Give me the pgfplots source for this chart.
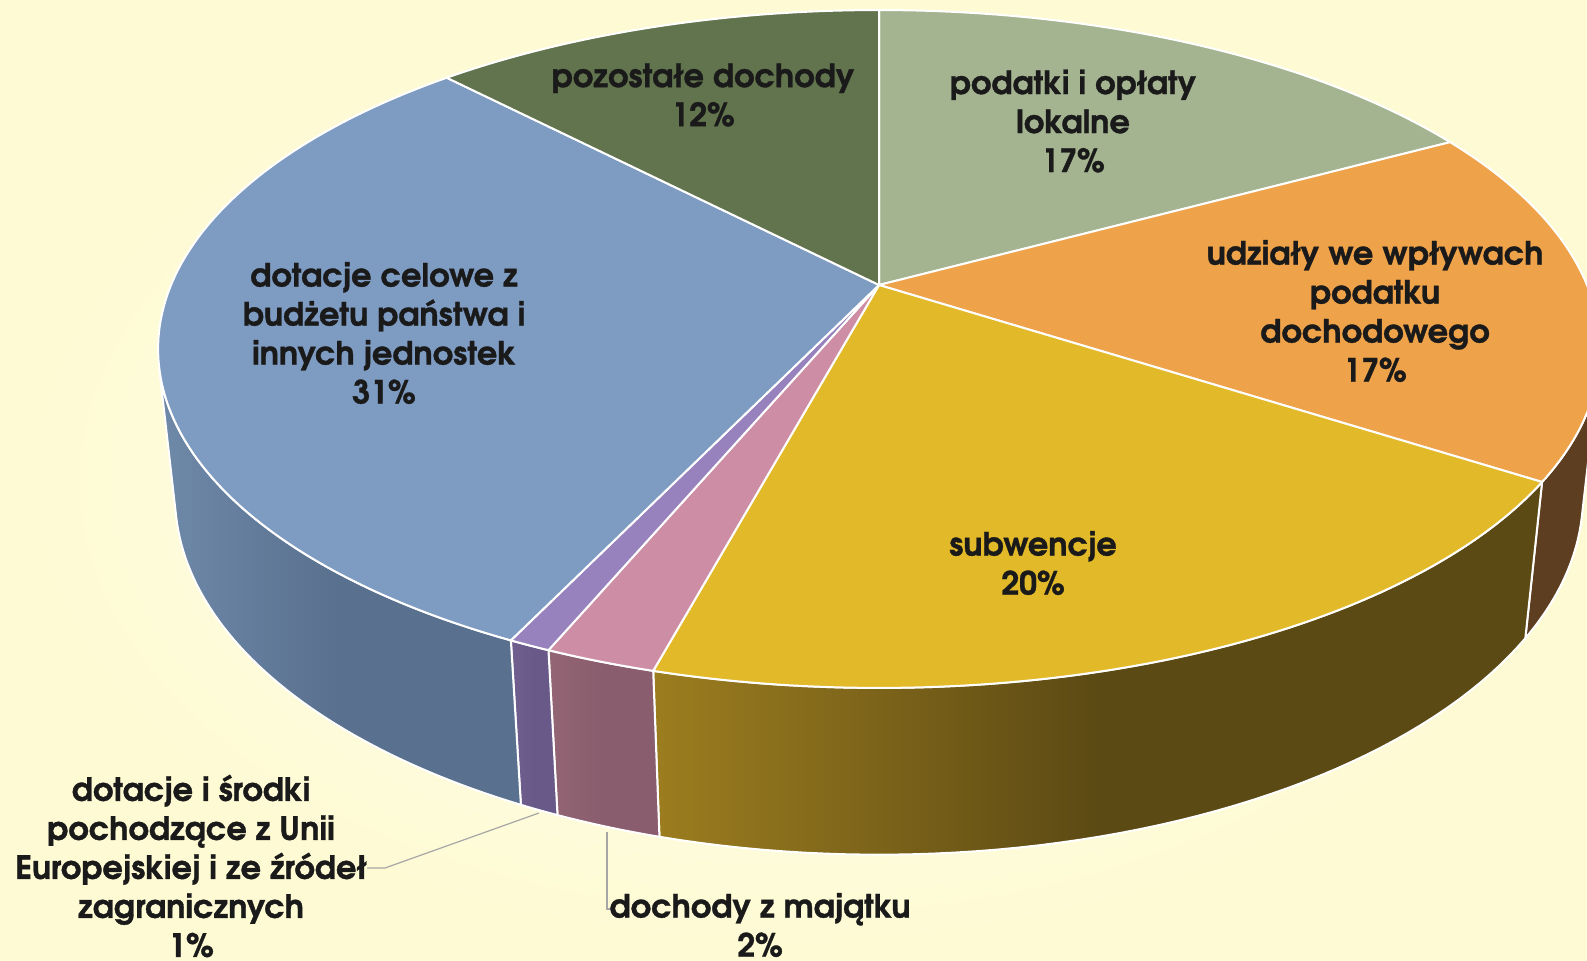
\documentclass[border=0pt]{standalone}
\usepackage{fontspec}
\setmainfont{TeX Gyre Adventor}[BoldFeatures={FakeBold=1.0}]
\usepackage{pgfplots}
\usepackage{pgfplotstable}
\pgfplotsset{compat=1.18}

\definecolor{cPod}{HTML}{A4B490}
\definecolor{cUdz}{HTML}{EEA24A}
\definecolor{cSub}{HTML}{E2B929}
\definecolor{cMaj}{HTML}{CD8DA4}
\definecolor{cUE}{HTML}{9882BD}
\definecolor{cCel}{HTML}{7E9BC1}
\definecolor{cPoz}{HTML}{62744D}
\definecolor{sUdz}{HTML}{5E3E20}
\definecolor{sSubL}{HTML}{9C7D1F}
\definecolor{sSubR}{HTML}{5C4A14}
\definecolor{sMajL}{HTML}{936575}
\definecolor{sMajR}{HTML}{895D6D}
\definecolor{sUEL}{HTML}{705F8F}
\definecolor{sUER}{HTML}{695989}
\definecolor{sCelL}{HTML}{6F89A9}
\definecolor{sCelR}{HTML}{59708E}
\definecolor{txt}{HTML}{1A1A1A}
\definecolor{bgIn}{HTML}{FFFFF3}
\definecolor{bgOut}{HTML}{FEFAD3}

\pgfplotstableread{
label value
podatki 17.1
udzialy 17.0
subwencje 20.1
majatek 2.1
ue 0.8
celowe 30.7
pozostale 12.2
}\piedata

\newcommand\lab{\fontsize{16}{19.5}\selectfont\bfseries}

\newcommand\topface[3]{%
 \addplot[fill=#3, draw=white, line width=1pt, line join=round,
   domain=0:1.1, samples=111, variable=\s]
 ({px(tt(\s,#1,#2),rr(\s),0)}, {py(tt(\s,#1,#2),rr(\s),0)}) -- cycle;}
\newcommand\sideface[4]{%
 \addplot[left color=#3, right color=#4, middle color=#4, draw=white, line width=1pt, line join=round,
   domain=0:2.1, samples=106, variable=\s]
 ({px(st(\s,#1,#2),1,sz(\s))}, {py(st(\s,#1,#2),1,sz(\s))}) -- cycle;}

\begin{document}%
\begin{tikzpicture}
\pgfplotstablegetelem{0}{value}\of\piedata\let\vA\pgfplotsretval
\pgfplotstablegetelem{1}{value}\of\piedata\let\vB\pgfplotsretval
\pgfplotstablegetelem{2}{value}\of\piedata\let\vC\pgfplotsretval
\pgfplotstablegetelem{3}{value}\of\piedata\let\vD\pgfplotsretval
\pgfplotstablegetelem{4}{value}\of\piedata\let\vE\pgfplotsretval
\pgfplotstablegetelem{5}{value}\of\piedata\let\vF\pgfplotsretval
\pgfplotstablegetelem{6}{value}\of\piedata\let\vG\pgfplotsretval
\pgfmathsetmacro\tA{90}
\pgfmathsetmacro\tB{\tA-3.6*\vA}
\pgfmathsetmacro\tC{\tB-3.6*\vB}
\pgfmathsetmacro\tD{\tC-3.6*\vC}
\pgfmathsetmacro\tE{\tD-3.6*\vD}
\pgfmathsetmacro\tF{\tE-3.6*\vE}
\pgfmathsetmacro\tG{\tF-3.6*\vF}
\pgfmathsetmacro\tH{\tG-3.6*\vG}
\begin{axis}[
  width=793.5pt, height=480.5pt, scale only axis,
  xmin=0, xmax=1587, ymin=0, ymax=961, y dir=reverse,
  axis line style={draw=none}, ticks=none,
  axis background/.style={inner color=bgIn, outer color=bgOut},
  declare function={
    px(\ang,\rad,\dep)=879+3326*\rad*cos(\ang)/(4.698+0.887*\rad*sin(\ang)+0.4617*\dep);
    py(\ang,\rad,\dep)=285-3326*(0.4617*\rad*sin(\ang)-0.887*\dep)/(4.698+0.887*\rad*sin(\ang)+0.4617*\dep);
    tt(\s,\a,\b)=(\a)+min(\s,1)*((\b)-(\a));
    rr(\s)=(\s<1.05);
    st(\s,\a,\b)=(\s<1.05)*((\a)+min(\s,1)*((\b)-(\a)))+(\s>1.05)*((\b)-max(\s-1.1,0)*((\b)-(\a)));
    sz(\s)=(\s>1.05)*0.2365;
  },
]
% sides
\sideface{-13.89}{\tC}{sUdz}{sUdz}
\sideface{\tC}{\tD}{sSubL}{sSubR}
\sideface{\tD}{\tE}{sMajL}{sMajR}
\sideface{\tE}{\tF}{sUEL}{sUER}
\sideface{\tF}{-166.11}{sCelL}{sCelR}
% tops
\topface{\tA}{\tB}{cPod}
\topface{\tB}{\tC}{cUdz}
\topface{\tC}{\tD}{cSub}
\topface{\tD}{\tE}{cMaj}
\topface{\tE}{\tF}{cUE}
\topface{\tF}{\tG}{cCel}
\topface{\tG}{\tH}{cPoz}
% leader lines
\draw[color=black!35, line width=0.6pt] (axis cs:539,813) -- (axis cs:385,868) -- (axis cs:367,868);
\draw[color=black!35, line width=0.6pt] (axis cs:607,832) -- (axis cs:607,909) -- (axis cs:613,909);
% labels
\begin{scope}[every node/.style={font=\lab, align=center, text=txt, inner sep=0pt}]
\node at (axis cs:703,95) {pozostałe dochody\\12\%};
\node at (axis cs:1073,121) {podatki i opłaty\\lokalne\\17\%};
\node at (axis cs:1375,311) {udziały we wpływach\\podatku\\dochodowego\\17\%};
\node at (axis cs:1033,563) {subwencje\\20\%};
\node at (axis cs:384,333) {dotacje celowe z\\budżetu państwa i\\innych jednostek\\31\%};
\node at (axis cs:191,866) {dotacje i środki\\pochodzące z Unii\\Europejskiej i ze źródeł\\zagranicznych\\1\%};
\node at (axis cs:760,925) {dochody z majątku\\2\%};
\end{scope}
\end{axis}
\end{tikzpicture}%
\end{document}
